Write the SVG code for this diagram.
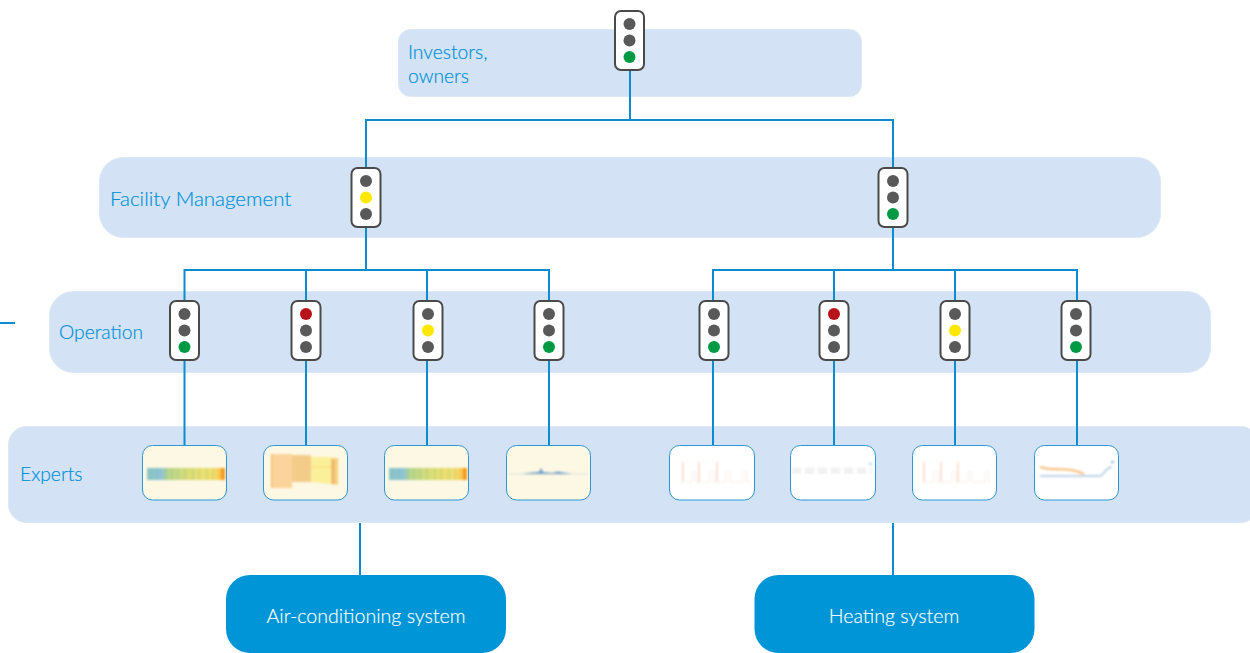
<svg xmlns="http://www.w3.org/2000/svg" width="1250" height="653" viewBox="0 0 1250 653">
<style>
.band{fill:#d3e3f5;stroke:#dce8f6;stroke-width:1}
.lbl{font-family:"Lato","Liberation Sans",sans-serif;font-size:19.300px;font-weight:300;fill:#0091d8;stroke:#0091d8;stroke-width:.2px}
.sys{fill:#0095d6}
.syslbl{font-family:"Lato","Liberation Sans",sans-serif;font-size:19.600px;font-weight:300;fill:#fff;stroke:#fff;stroke-width:.15px;text-anchor:middle}
.conn{fill:none;stroke:#0b8bd0;stroke-width:2}
.body{fill:#fff;stroke:#4a4a4a;stroke-width:2}
.off{fill:#595959}.g{fill:#009a44}.y{fill:#ffe800}.r{fill:#b5121b}
.th{stroke:#2f95d3;stroke-width:1}
.cream{fill:#fdf8e4}.white{fill:#fff}
.soft{filter:url(#soft)}
.pale{opacity:.6}
</style>
<defs>
<rect id="tl" class="body" x="-14.500" y="-29.500" width="29" height="59" rx="6"/>
<filter id="soft" x="-10%" y="-30%" width="120%" height="160%"><feGaussianBlur stdDeviation="0.800"/></filter>
<linearGradient id="heat"><stop offset="0" stop-color="#8cc6c4"/><stop offset=".18" stop-color="#8cc3d6"/><stop offset=".27" stop-color="#b9d68a"/><stop offset=".6" stop-color="#e3df6f"/><stop offset=".85" stop-color="#f6df6a"/><stop offset=".93" stop-color="#f8c850"/><stop offset="1" stop-color="#f4a030"/></linearGradient>
</defs>

<rect class="band" x="398.500" y="29.500" width="463" height="67" rx="12"/>
<rect class="band" x="99.500" y="157.500" width="1061" height="80" rx="24"/>
<rect class="band" x="49.500" y="291.500" width="1161" height="81" rx="24"/>
<rect class="band" x="8.500" y="426.500" width="1250" height="96" rx="18"/>

<g id="connectors">
<path class="conn" d="M630 70V120M366 168V120H893V168"/>
<path class="conn" d="M366 227V270M184.500 301V270H549V301M306 270V301M427 270V301"/>
<path class="conn" d="M893 227V270M713 301V270H1077V301M834 270V301M955 270V301"/>
<path class="conn" d="M184.500 360V446M306 360V446M427 360V446M549 360V446M713 360V446M834 360V446M955 360V446M1077 360V446"/>
<path class="conn" d="M360 523V575M893 523V575"/>
<path class="conn" d="M0 323H15"/>
</g>

<g id="investors"><text class="lbl" x="408" y="59">Investors,</text><text class="lbl" x="408" y="83">owners</text></g>
<g id="facility"><text class="lbl" x="110" y="206" style="font-size:20.500px">Facility Management</text></g>
<g id="operation"><text class="lbl" x="59" y="339">Operation</text></g>
<g id="experts"><text class="lbl" x="20" y="481">Experts</text></g>

<g id="tl-top" transform="translate(629.500 40.500)"><use href="#tl"/><circle class="off" cy="-16.500" r="6"/><circle class="off" r="6"/><circle class="g" cy="16.500" r="6"/></g>
<g id="tl-fm1" transform="translate(366 197.500)"><use href="#tl"/><circle class="off" cy="-16.500" r="6"/><circle class="y" r="6"/><circle class="off" cy="16.500" r="6"/></g>
<g id="tl-fm2" transform="translate(893 197.500)"><use href="#tl"/><circle class="off" cy="-16.500" r="6"/><circle class="off" r="6"/><circle class="g" cy="16.500" r="6"/></g>
<g id="tl-op1" transform="translate(184.500 330.500)"><use href="#tl"/><circle class="off" cy="-16.500" r="6"/><circle class="off" r="6"/><circle class="g" cy="16.500" r="6"/></g>
<g id="tl-op2" transform="translate(306 330.500)"><use href="#tl"/><circle class="r" cy="-16.500" r="6"/><circle class="off" r="6"/><circle class="off" cy="16.500" r="6"/></g>
<g id="tl-op3" transform="translate(428 330.500)"><use href="#tl"/><circle class="off" cy="-16.500" r="6"/><circle class="y" r="6"/><circle class="off" cy="16.500" r="6"/></g>
<g id="tl-op4" transform="translate(549 330.500)"><use href="#tl"/><circle class="off" cy="-16.500" r="6"/><circle class="off" r="6"/><circle class="g" cy="16.500" r="6"/></g>
<g id="tl-op5" transform="translate(714 330.500)"><use href="#tl"/><circle class="off" cy="-16.500" r="6"/><circle class="off" r="6"/><circle class="g" cy="16.500" r="6"/></g>
<g id="tl-op6" transform="translate(834 330.500)"><use href="#tl"/><circle class="r" cy="-16.500" r="6"/><circle class="off" r="6"/><circle class="off" cy="16.500" r="6"/></g>
<g id="tl-op7" transform="translate(955 330.500)"><use href="#tl"/><circle class="off" cy="-16.500" r="6"/><circle class="y" r="6"/><circle class="off" cy="16.500" r="6"/></g>
<g id="tl-op8" transform="translate(1076 330.500)"><use href="#tl"/><circle class="off" cy="-16.500" r="6"/><circle class="off" r="6"/><circle class="g" cy="16.500" r="6"/></g>

<g id="th1"><rect class="th cream" x="142.500" y="445.500" width="84" height="54.500" rx="10"/><g class="soft"><rect x="147" y="468" width="78" height="12" fill="url(#heat)"/><path d="M151 468V480M157 468V480M166 468V480M172 468V480M178 468V480M185 468V480M193 468V480M199 468V480M207 468V480M213 468V480" stroke="#7fb9a0" stroke-width="1" opacity=".5"/><rect x="221" y="468" width="4" height="12" fill="#f39a24"/></g></g>
<g id="th2"><rect class="th cream" x="263.500" y="445.500" width="84" height="54.500" rx="10"/><g class="soft">
<path d="M271 454H292V488H271Z" fill="#fbd49b"/><path d="M292 455H311V482H292Z" fill="#f4cc8a"/><path d="M311 457H331V484L311 482Z" fill="#fbf09a"/><path d="M331 458H338V485L331 484Z" fill="#f4d078"/><rect x="271" y="454" width="1.500" height="34" fill="#f5b96c"/><path d="M311 467H331" stroke="#f7d979" stroke-width="1"/><path d="M333 460V484" stroke="#e99a78" stroke-width="1.500"/></g></g>
<g id="th3"><rect class="th cream" x="384.500" y="445.500" width="84" height="54.500" rx="10"/><g class="soft"><rect x="389" y="468" width="78" height="12" fill="url(#heat)"/><path d="M393 468V480M399 468V480M408 468V480M414 468V480M420 468V480M427 468V480M435 468V480M441 468V480M449 468V480M455 468V480" stroke="#7fb9a0" stroke-width="1" opacity=".5"/><rect x="463" y="468" width="4" height="12" fill="#f39a24"/></g></g>
<g id="th4"><rect class="th cream" x="506.500" y="445.500" width="84" height="54.500" rx="10"/><g class="soft">
<path d="M508 474H588" stroke="#d6e2dc" stroke-width="1" fill="none"/><path d="M522 474L532 472.500L539 472L541 468L543 472L552 473L558 471.500L566 473L572 474Z" fill="#6c9cc6"/></g></g>
<g id="th5"><rect class="th white" x="669.500" y="445.500" width="85" height="54.500" rx="10"/><g class="soft pale">
<path d="M683 462V482M699 462V482M717 462V482" stroke="#f9c9b4" stroke-width="2" fill="none"/><path d="M680 482H692V472H696V482H710V472H714V482H726V472H730V482H743V472H747V482H750" stroke="#f3e0d8" stroke-width="1" fill="none"/></g></g>
<g id="th6"><rect class="th white" x="790.500" y="445.500" width="85" height="54.500" rx="10"/><g class="soft pale">
<path d="M792 471H872" stroke="#e8e8e8" stroke-width="7" stroke-dasharray="9 4" fill="none"/><rect x="869" y="463" width="3" height="2" fill="#8db8e4"/></g></g>
<g id="th7"><rect class="th white" x="912.500" y="445.500" width="84" height="54.500" rx="10"/><g class="soft pale">
<path d="M924 462V482M941 462V482M958 462V482" stroke="#f9c9b4" stroke-width="2" fill="none"/><path d="M922 482H934V472H938V482H952V472H956V482H968V472H972V482H985V472H989V482" stroke="#f3e0d8" stroke-width="1" fill="none"/></g></g>
<g id="th8"><rect class="th white" x="1034.500" y="445.500" width="84" height="54.500" rx="10"/><g class="soft">
<path d="M1040 467C1056 472 1068 466 1084 474" stroke="#f6bd74" stroke-width="2" fill="none"/><path d="M1040 476H1100C1104 476 1104 468 1112 467" stroke="#a9c3dd" stroke-width="1.500" fill="none"/><rect x="1111" y="461" width="3" height="2" fill="#8db8e4"/></g></g>

<g id="air"><rect class="sys" x="226" y="575" width="280" height="78" rx="24"/><text class="syslbl" x="366" y="623">Air-conditioning system</text></g>
<g id="heating"><rect class="sys" x="754.500" y="575" width="280" height="78" rx="24"/><text class="syslbl" x="894" y="623">Heating system</text></g>
</svg>
